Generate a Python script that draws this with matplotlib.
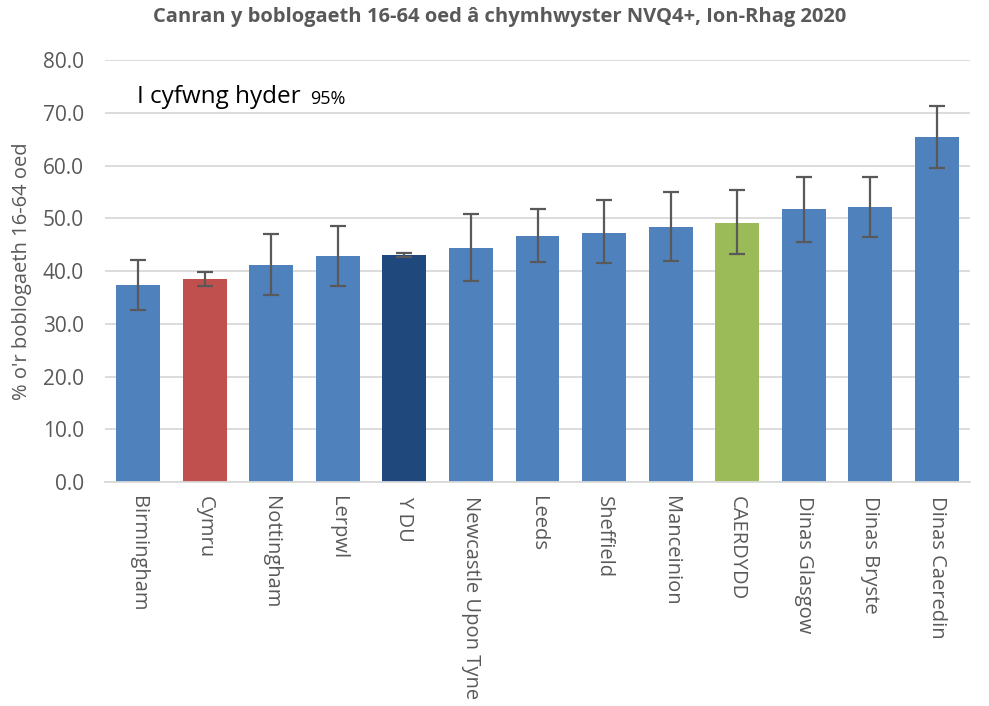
import matplotlib.pyplot as plt
import numpy as np

plt.rcParams['font.family'] = ['Open Sans', 'DejaVu Sans']

ardaloedd = ['Birmingham', 'Cymru', 'Nottingham', 'Lerpwl', 'Y DU',
             'Newcastle Upon Tyne', 'Leeds', 'Sheffield', 'Manceinion',
             'CAERDYDD', 'Dinas Glasgow', 'Dinas Bryste', 'Dinas Caeredin']
canran = [37.3, 38.5, 41.1, 42.8, 43.0, 44.4, 46.7, 47.3, 48.4, 49.2, 51.7, 52.1, 65.4]
cyfwng_isaf = [32.6, 37.2, 35.4, 37.2, 42.6, 38.1, 41.8, 41.6, 42.0, 43.3, 45.6, 46.5, 59.6]
cyfwng_uchaf = [42.1, 39.9, 47.0, 48.5, 43.5, 50.8, 51.8, 53.4, 55.0, 55.3, 57.9, 57.8, 71.3]

lliwiau = ['#4F81BD'] * len(ardaloedd)
lliwiau[1] = '#C0504D'
lliwiau[4] = '#1F497D'
lliwiau[9] = '#9BBB59'

canran = np.array(canran)
yerr = [canran - np.array(cyfwng_isaf), np.array(cyfwng_uchaf) - canran]

fig = plt.figure(figsize=(9.89, 7.06), dpi=100)
ax = fig.add_axes([0.106, 0.317, 0.875, 0.598])

x = np.arange(len(ardaloedd))
ax.bar(x, canran, width=0.66, color=lliwiau, zorder=2)
ax.errorbar(x, canran, yerr=yerr, fmt='none', ecolor='#595959',
            elinewidth=1.6, capsize=6, capthick=1.6, zorder=3)

ax.set_xlim(-0.5, len(ardaloedd) - 0.5)
ax.set_ylim(0, 80)
ax.set_yticks(np.arange(0, 81, 10))
ax.set_yticklabels([f'{v:.1f}' for v in np.arange(0, 81, 10)])
ax.yaxis.grid(True, color='#D9D9D9', linewidth=1.3, zorder=0)
ax.set_axisbelow(True)
ax.set_xticks(x)
ax.set_xticklabels(ardaloedd, rotation=270, va='top', ha='center')
ax.tick_params(axis='y', length=0, labelsize=15, colors='#595959', pad=15)
ax.tick_params(axis='x', length=0, labelsize=14.5, colors='#595959', pad=10)

for side in ['top', 'right', 'left']:
    ax.spines[side].set_visible(False)
ax.spines['bottom'].set_color('#D9D9D9')
ax.spines['bottom'].set_linewidth(1.3)

ax.set_ylabel("% o'r boblogaeth 16-64 oed", fontsize=14.5, color='#595959', labelpad=8)
fig.suptitle('Canran y boblogaeth 16-64 oed â chymhwyster NVQ4+, Ion-Rhag 2020',
             fontsize=14.5, fontweight='bold', color='#595959', x=0.505, y=0.99)

ax.text(-0.02, 73.0, 'I cyfwng hyder', fontsize=17.5, color='black', va='center')
ax.text(2.58, 72.7, '95%', fontsize=13, color='black', va='center')

fig.savefig('out.png', dpi=100)
